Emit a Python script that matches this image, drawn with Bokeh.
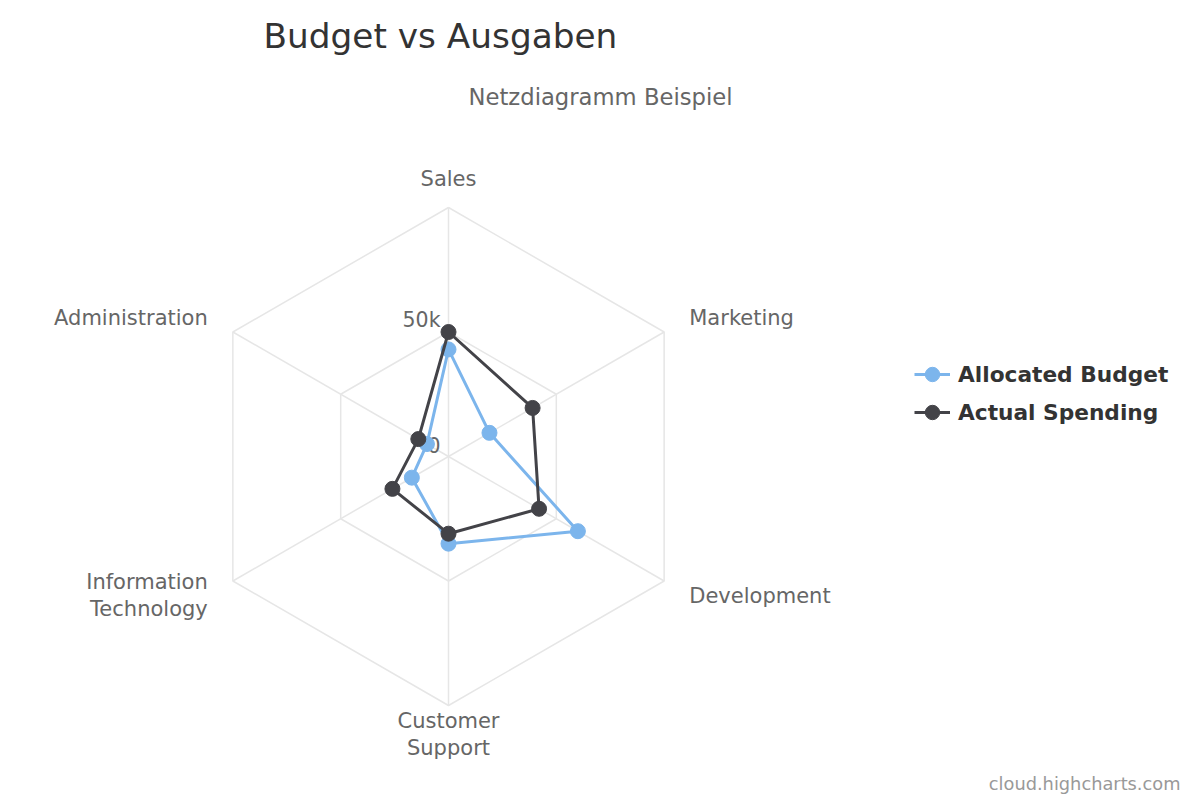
import math
from bokeh.plotting import figure
from bokeh.models import Range1d, Label, Legend, LegendItem, ColumnDataSource
from bokeh.core.properties import value
from bokeh.embed import file_html
from bokeh.resources import INLINE

# ---------------- data ----------------
categories = ["Sales", "Marketing", "Development", "Customer Support",
              "Information Technology", "Administration"]
category_labels = ["Sales", "Marketing", "Development", "Customer\nSupport",
                   "Information\nTechnology", "Administration"]
allocated = [43000, 19000, 60000, 35000, 17000, 10000]
actual = [50000, 39000, 42000, 31000, 26000, 14000]
series_names = ["Allocated Budget", "Actual Spending"]
series_colors = ["#7cb5ec", "#434348"]
grid_values = [50000, 100000]
tick_values = [0, 50000]
tick_labels = ["0", "50k"]
title_text = "Budget vs Ausgaben"
subtitle_text = "Netzdiagramm Beispiel"
credits_text = "cloud.highcharts.com"

# ---------------- layout ----------------
W, H = 1200, 800
CX, CY = 448, 456      # pane centre in px
R_PX = 249             # pane radius in px
Y_MAX = grid_values[-1]
S = Y_MAX / R_PX       # data units per pixel
FONT = "DejaVu Sans"

p = figure(width=W, height=H,
           x_range=Range1d(-CX * S, (W - CX) * S),
           y_range=Range1d(-(H - CY) * S, CY * S),
           output_backend="svg", toolbar_location=None, min_border=0)
p.axis.visible = False
p.grid.visible = False
p.outline_line_color = None
p.background_fill_color = "white"
p.border_fill_color = "white"

n = len(categories)
angles = [2 * math.pi * i / n for i in range(n)]


def polar(vals):
    xs = [v * math.sin(a) for v, a in zip(vals, angles)]
    ys = [v * math.cos(a) for v, a in zip(vals, angles)]
    return xs, ys


# grid polygons
for g in grid_values:
    gx, gy = polar([g] * n)
    p.line(gx + gx[:1], gy + gy[:1], line_color="#e6e6e6", line_width=1.5)

# radial lines
ox, oy = polar([Y_MAX] * n)
p.segment(x0=[0] * n, y0=[0] * n, x1=ox, y1=oy, line_color="#e6e6e6", line_width=1.5)

# y-axis tick labels
p.text(x=[0] * len(tick_values), y=tick_values, text=tick_labels,
       text_font=value(FONT), text_font_size="20.5px", text_color="#666666",
       text_align="right", text_baseline="middle", x_offset=-8, y_offset=-12)

# category labels
lab_r = Y_MAX + 29 * S
lx, ly = polar([lab_r] * n)
aligns = []
for a in angles:
    s = math.sin(a)
    aligns.append("left" if s > 0.01 else ("right" if s < -0.01 else "center"))
src = ColumnDataSource(dict(x=lx, y=ly, text=category_labels, align=aligns))
p.text(x="x", y="y", text="text", source=src, text_align="align",
       text_baseline="middle", text_font=value(FONT), text_font_size="21px",
       text_color="#666666", text_line_height=1.15)

# series
items = []
for name, vals, col in zip(series_names, [allocated, actual], series_colors):
    sx, sy = polar(vals)
    lr = p.line(sx + sx[:1], sy + sy[:1], line_color=col, line_width=3)
    mr = p.scatter(sx, sy, size=15, fill_color=col, line_color=col, marker="circle")
    items.append(LegendItem(label=name, renderers=[lr, mr]))

legend = Legend(items=items, location=(914, 370), orientation="vertical",
                glyph_width=36, glyph_height=36, spacing=2, padding=0, margin=0,
                label_standoff=8, label_text_font=FONT, label_text_font_size="21.7px",
                label_text_font_style="bold", label_text_color="#333333",
                border_line_color=None, background_fill_alpha=0)
p.add_layout(legend)

# titles / credits
p.add_layout(Label(x=263, y=H - 35, x_units="screen", y_units="screen", text=title_text,
                   text_font=FONT, text_font_size="34.3px", text_color="#333333",
                   text_baseline="middle", text_align="left"))
p.add_layout(Label(x=600, y=H - 96, x_units="screen", y_units="screen", text=subtitle_text,
                   text_font=FONT, text_font_size="22.7px", text_color="#666666",
                   text_baseline="middle", text_align="center"))
p.add_layout(Label(x=1180, y=H - 783, x_units="screen", y_units="screen", text=credits_text,
                   text_font=FONT, text_font_size="17.8px", text_color="#999999",
                   text_baseline="middle", text_align="right"))

open("out.html", "w").write(file_html(p, INLINE))
